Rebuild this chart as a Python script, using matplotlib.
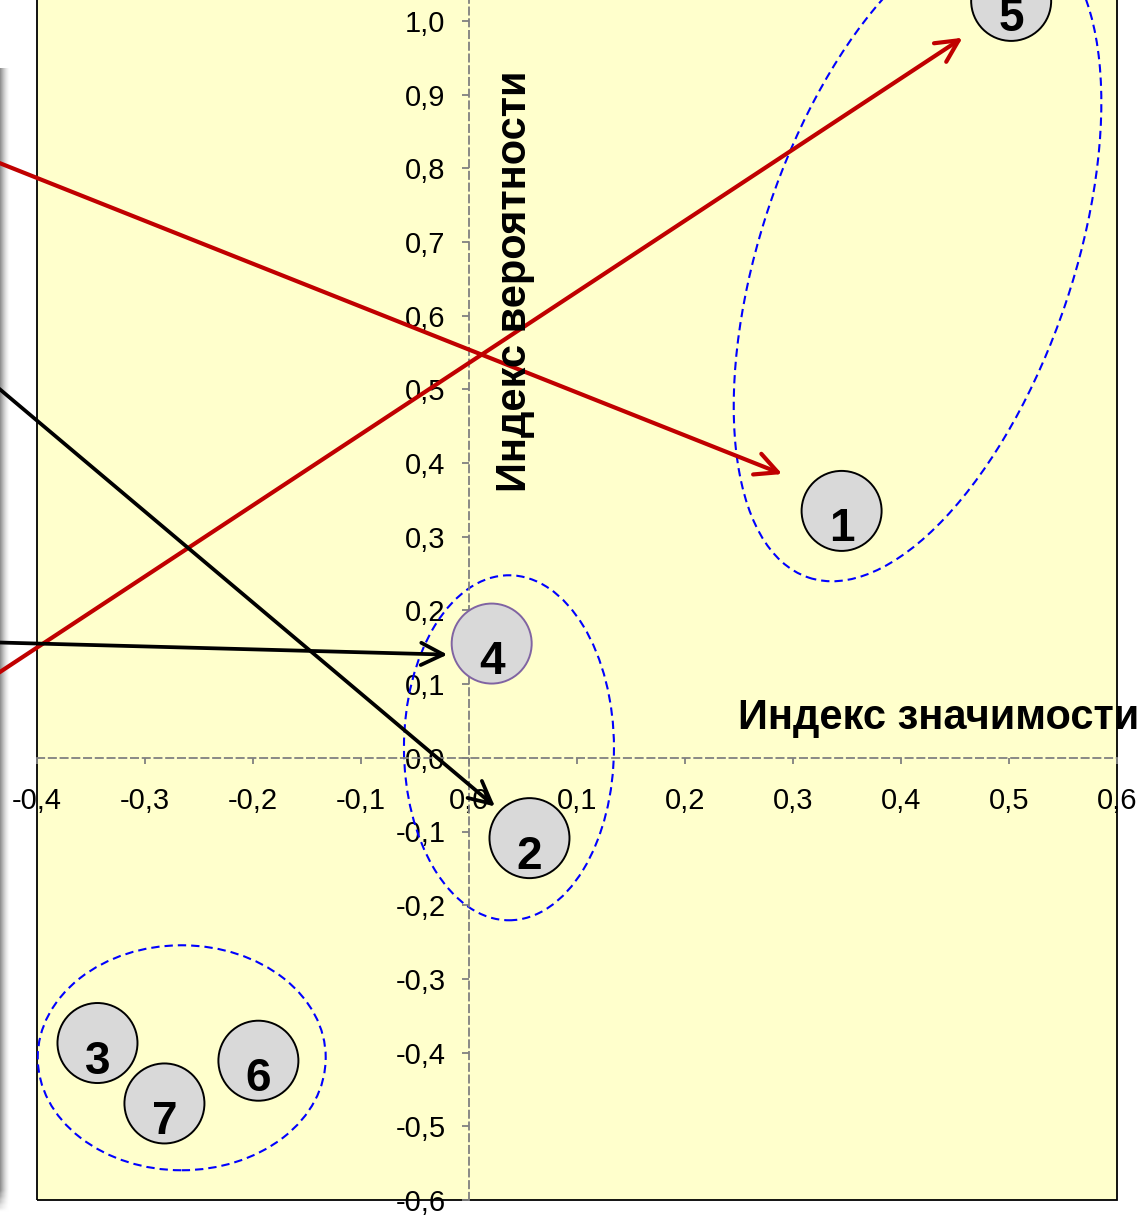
import numpy as np
import matplotlib.pyplot as plt
from matplotlib.patches import Ellipse, Rectangle
from matplotlib import transforms

plt.rcParams['font.family'] = ['Liberation Sans', 'DejaVu Sans']

# Риски: номер, индекс значимости, индекс вероятности
nums = ['1', '2', '3', '4', '5', '6', '7']
x_imp = [0.345, 0.056, -0.344, 0.021, 0.502, -0.195, -0.282]
y_prob = [0.335, -0.109, -0.387, 0.155, 1.027, -0.411, -0.469]
edge_cols = ['black', 'black', 'black', '#8064a2', 'black', 'black', 'black']

# Подписи осей
x_ticks = [-0.4, -0.3, -0.2, -0.1, 0.0, 0.1, 0.2, 0.3, 0.4, 0.5, 0.6]
x_labels = ['-0,4', '-0,3', '-0,2', '-0,1', '0,0', '0,1', '0,2', '0,3', '0,4', '0,5', '0,6']
y_ticks = [-0.6, -0.5, -0.4, -0.3, -0.2, -0.1, 0.0, 0.1, 0.2, 0.3, 0.4, 0.5, 0.6, 0.7, 0.8, 0.9, 1.0]
y_labels = ['-0,6', '-0,5', '-0,4', '-0,3', '-0,2', '-0,1', '0,0', '0,1', '0,2', '0,3',
            '0,4', '0,5', '0,6', '0,7', '0,8', '0,9', '1,0']

# Стрелки (начало -> конец)
red_start = [(-0.5, 0.845), (-0.5, 0.053)]
red_end = [(0.290, 0.385), (0.457, 0.977)]
black_start = [(-0.5, 0.581), (-0.5, 0.159)]
black_end = [(0.024, -0.066), (-0.020, 0.140)]

# Группы (центр, ширина и высота в дюймах, угол)
grp_center = [(0.4153, 0.683), (0.037, 0.0136), (-0.266, -0.407)]
grp_w = [3.12, 2.10, 2.88]
grp_h = [6.82, 3.45, 2.25]
grp_angle = [-18.7, 0, 0]

fig = plt.figure(figsize=(11.46, 12.15), dpi=100)

# тень слева
sax = fig.add_axes([0, 0, 10 / 1146, (1215 - 68) / 1215])
sax.set_zorder(0)
gx = np.linspace(0, 1, 20)
gy = np.linspace(0, 1, 200)
GX, GY = np.meshgrid(gx, gy)
fade = np.clip((1 - GY) / 0.02, 0, 1)
shade = 1 - 0.45 * (1 - GX) ** 1.5 * fade
sax.imshow(shade, cmap='gray', vmin=0, vmax=1, aspect='auto', origin='upper')
sax.axis('off')

ax = fig.add_axes([37 / 1146, 15 / 1215, 1080 / 1146, 1.68 * 737 / 1215])
ax.set_zorder(1)
ax.set_xlim(-0.4, 0.6)
ax.set_ylim(-0.6, 1.08)
ax.set_facecolor('#ffffcc')

# рамка
ax.add_patch(Rectangle((0, 0), 1, 1, transform=ax.transAxes, fill=False,
                       edgecolor='black', lw=1.3, zorder=0.5, clip_on=False))
ax.spines['right'].set_visible(False)
ax.spines['top'].set_visible(False)
for s in ['left', 'bottom']:
    ax.spines[s].set_position(('data', 0))
    ax.spines[s].set_linestyle((0, (4, 2.5)))
    ax.spines[s].set_color('#808080')
    ax.spines[s].set_linewidth(1.3)

ax.set_xticks(x_ticks)
ax.set_xticklabels(x_labels)
ax.set_yticks(y_ticks)
ax.set_yticklabels(y_labels)
ax.tick_params(axis='x', direction='out', length=4, width=1.3, color='#808080',
               labelsize=21, pad=17)
ax.tick_params(axis='y', direction='out', length=5, width=1.3, color='#808080',
               labelsize=21, pad=12)

# группы
for c, w, h, a in zip(grp_center, grp_w, grp_h, grp_angle):
    tr = fig.dpi_scale_trans + transforms.ScaledTranslation(c[0], c[1], ax.transData)
    ax.add_patch(Ellipse((0, 0), w, h, angle=a, transform=tr, fill=False,
                         edgecolor='blue', lw=1.5, linestyle=(0, (4, 2.4)), zorder=2))

# точки
ax.scatter(x_imp, y_prob, s=3318, c='#d9d9d9', edgecolors=edge_cols, linewidths=1.4,
           zorder=3, clip_on=False)
for n, x, y in zip(nums, x_imp, y_prob):
    ax.annotate(n, (x, y), xytext=(0, -22), textcoords='offset points', ha='center',
                va='baseline', fontsize=33, fontweight='bold', zorder=4,
                annotation_clip=False)

# стрелки
for st, en in zip(red_start, red_end):
    ax.annotate('', xy=en, xytext=st, annotation_clip=False, zorder=5,
                arrowprops=dict(arrowstyle='->,head_length=0.8,head_width=0.4',
                                color='#c00000', lw=3.0, shrinkA=0, shrinkB=0,
                                mutation_scale=20))
for st, en in zip(black_start, black_end):
    ax.annotate('', xy=en, xytext=st, annotation_clip=False, zorder=5,
                arrowprops=dict(arrowstyle='->,head_length=0.8,head_width=0.4',
                                color='black', lw=2.7, shrinkA=0, shrinkB=0,
                                mutation_scale=20))

ax.text(0.621, 0.054, 'Индекс значимости', ha='right', va='center', fontsize=30,
        fontweight='bold', zorder=6, clip_on=False)
ax.text(0.0426, 0.647, 'Индекс вероятности', ha='center', va='center', rotation=90,
        fontsize=30, fontweight='bold', zorder=6)

fig.savefig('out.png', dpi=100)
